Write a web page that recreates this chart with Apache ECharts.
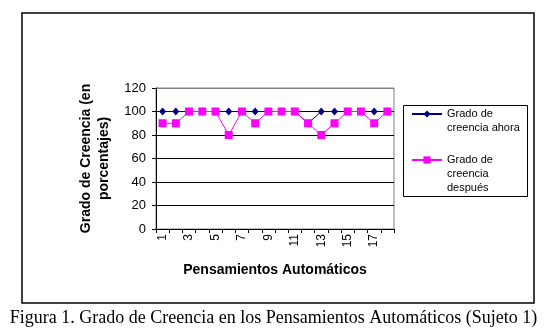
<!DOCTYPE html>
<html>
<head>
<meta charset="utf-8">
<script src="https://cdn.jsdelivr.net/npm/echarts@6/dist/echarts.min.js"></script>
<style>
html,body{margin:0;padding:0;background:#fff;}
#chart{width:547px;height:336px;}
</style>
</head>
<body>
<div id="chart"></div>
<script>
var categories = ['1','2','3','4','5','6','7','8','9','10','11','12','13','14','15','16','17','18'];
var ahora =   [100,100,100,100,100,100,100,100,100,100,100, 90,100,100,100,100,100,100];
var despues = [ 90, 90,100,100,100, 80,100, 90,100,100,100, 90, 80, 90,100,100, 90,100];
var seriesNames = ['Grado de creencia ahora', 'Grado de creencia después'];
var legendLabels = ['Grado de\ncreencia ahora', 'Grado de\ncreencia\ndespués'];
var yTicks = [0, 20, 40, 60, 80, 100, 120];
var xTitle = 'Pensamientos Automáticos';
var yTitle = 'Grado de Creencia (en\nporcentajes)';
var caption = 'Figura 1. Grado de Creencia en los Pensamientos Automáticos (Sujeto 1)';

var FONT = '"Liberation Sans", Arial, sans-serif';
var chart = echarts.init(document.getElementById('chart'), null, {renderer: 'canvas'});

function legendFormatter(name) {
  var idx = seriesNames.indexOf(name);
  var txt = legendLabels[idx];
  var n = txt.split('\n').length;
  var pre = '';
  for (var i = 1; i < n; i++) pre += '\n';
  return pre + txt;
}

var option = {
  backgroundColor: '#fff',
  animation: false,
  title: {
    text: caption,
    left: 'center',
    top: 309,
    padding: 0,
    textStyle: {fontFamily: '"Liberation Serif", "Times New Roman", serif', fontSize: 18, fontWeight: 'normal', color: '#000'}
  },
  legend: [
    {
      data: [seriesNames[0]], orient: 'vertical', left: 411, top: 114 - 21, padding: 0,
      itemWidth: 30, itemHeight: 9, formatter: legendFormatter, selectedMode: false,
      textStyle: {fontFamily: FONT, fontSize: 11, lineHeight: 14, color: '#000'}
    },
    {
      data: [seriesNames[1]], orient: 'vertical', left: 411, top: 160 - 35, padding: 0,
      itemWidth: 30, itemHeight: 9, formatter: legendFormatter, selectedMode: false,
      textStyle: {fontFamily: FONT, fontSize: 11, lineHeight: 14, color: '#000'}
    }
  ],
  grid: {
    left: 156, right: 153, top: 88, bottom: 107,
    show: true, borderColor: '#808080', borderWidth: 1, backgroundColor: 'transparent'
  },
  xAxis: {
    type: 'category',
    data: categories,
    boundaryGap: true,
    name: xTitle,
    nameLocation: 'middle',
    nameGap: 34,
    nameTextStyle: {fontFamily: FONT, fontSize: 14, fontWeight: 'bold', color: '#000'},
    axisLine: {show: true, lineStyle: {color: '#000', width: 1}},
    axisTick: {show: true, interval: 0, length: 4, lineStyle: {color: '#000'}},
    axisLabel: {interval: 1, rotate: 90, margin: 5, fontFamily: FONT, fontSize: 12, color: '#000'},
    splitLine: {show: false}
  },
  yAxis: {
    type: 'value',
    min: yTicks[0], max: yTicks[yTicks.length - 1], interval: yTicks[1] - yTicks[0],
    name: yTitle,
    nameLocation: 'middle',
    nameRotate: 90,
    nameGap: 43,
    nameTextStyle: {fontFamily: FONT, fontSize: 14, fontWeight: 'bold', color: '#000', lineHeight: 18},
    axisLine: {show: true, lineStyle: {color: '#000', width: 1}},
    axisTick: {show: true, length: 4, lineStyle: {color: '#000'}},
    axisLabel: {margin: 10, fontFamily: FONT, fontSize: 13, color: '#000'},
    splitLine: {show: true, lineStyle: {color: ['#000','#000','#000','#000','#000','#000','#808080'], width: 1}}
  },
  graphic: [
    {type: 'rect', shape: {x: 22, y: 13, width: 512, height: 290}, style: {fill: 'none', stroke: '#000', lineWidth: 1.5}, silent: true, z: -1},
    {type: 'rect', shape: {x: 403.5, y: 105.5, width: 124, height: 91}, style: {fill: 'none', stroke: '#000', lineWidth: 1}, silent: true}
  ],
  series: [
    {
      name: seriesNames[0], type: 'line', data: ahora,
      symbol: 'diamond', symbolSize: [7, 8],
      itemStyle: {color: '#000080'},
      lineStyle: {color: '#000080', width: 1}
    },
    {
      name: seriesNames[1], type: 'line', data: despues,
      symbol: 'rect', symbolSize: 8,
      itemStyle: {color: '#FF00FF'},
      lineStyle: {color: '#FF00FF', width: 1}
    }
  ]
};
chart.setOption(option);
</script>
</body>
</html>
